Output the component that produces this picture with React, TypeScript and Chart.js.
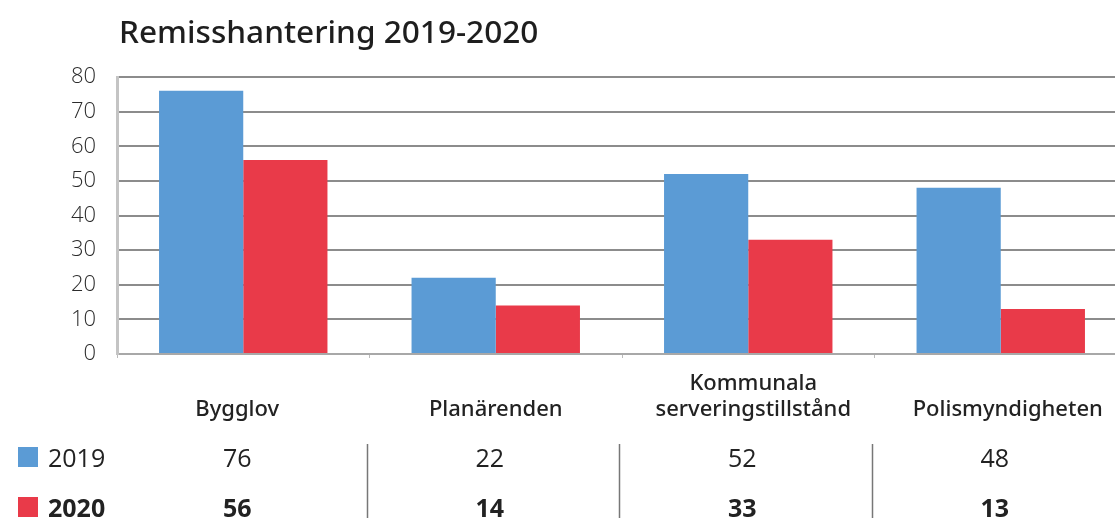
import React, { useEffect, useRef } from "react";
import { Chart, registerables } from "chart.js";

Chart.register(...registerables);

const title = "Remisshantering 2019-2020";
const categories: (string | string[])[] = [
  "Bygglov",
  "Planärenden",
  ["Kommunala", "serveringstillstånd"],
  "Polismyndigheten",
];
const seriesNames = ["2019", "2020"];
const values2019 = [76, 22, 52, 48];
const values2020 = [56, 14, 33, 13];
const yTicks = [0, 10, 20, 30, 40, 50, 60, 70, 80];

const BLUE = "#5b9bd5";
const RED = "#e93a49";
const FONT = "'Noto Sans', 'Open Sans', sans-serif";
const TICKFONT = "'Open Sans', 'Noto Sans', sans-serif";

const tablePlugin = {
  id: "tablePlugin",
  afterDraw(chart: any) {
    const ctx = chart.ctx;
    const x = chart.scales.x;
    const area = chart.chartArea;
    ctx.save();
    // Title
    ctx.fillStyle = "#1e1e1e";
    ctx.font = `500 31.6px ${FONT}`;
    ctx.textAlign = "left";
    ctx.textBaseline = "alphabetic";
    ctx.fillText(title, area.left + 2, 43);

    const n = categories.length;
    const half = (x.getPixelForValue(1) - x.getPixelForValue(0)) / 2;

    // Category labels (bottom-aligned)
    ctx.font = `500 22px ${FONT}`;
    ctx.fillStyle = "#222";
    ctx.textAlign = "center";
    const labelShift = [-6, 0, 5, 7];
    categories.forEach((c, i) => {
      const lines = Array.isArray(c) ? c : [c];
      const cx = x.getPixelForValue(i) + labelShift[i];
      lines.forEach((ln, j) => {
        const y = 416 - (lines.length - 1 - j) * 26;
        ctx.fillText(ln, cx, y);
      });
    });

    // Rows
    const rows = [values2019, values2020];
    const colors = [BLUE, RED];
    const baselines = [467, 517];
    rows.forEach((row, r) => {
      const weight = r === 1 ? "bold " : "";
      ctx.fillStyle = colors[r];
      ctx.fillRect(18, baselines[r] - 20, 20, 20);
      ctx.fillStyle = "#222";
      ctx.font = `${weight}25px ${TICKFONT}`;
      ctx.textAlign = "left";
      ctx.fillText(seriesNames[r], 48, baselines[r]);
      ctx.textAlign = "center";
      row.forEach((v, i) => {
        ctx.fillText(String(v), x.getPixelForValue(i) - 6, baselines[r]);
      });
    });

    // Separators
    ctx.strokeStyle = "#777";
    ctx.lineWidth = 1.5;
    for (let i = 0; i < n - 1; i++) {
      const sx = Math.round(x.getPixelForValue(i) + half) - 2.5;
      ctx.beginPath();
      ctx.moveTo(sx, 444);
      ctx.lineTo(sx, 518);
      ctx.stroke();
    }
    ctx.restore();
  },
};

export default function App() {
  const ref = useRef<HTMLCanvasElement | null>(null);
  useEffect(() => {
    if (!ref.current) return;
    const chart = new Chart(ref.current, {
      type: "bar",
      data: {
        labels: categories.map((c) => (Array.isArray(c) ? c.join(" ") : c)),
        datasets: [
          {
            label: seriesNames[0],
            data: values2019,
            backgroundColor: BLUE,
            borderWidth: 0,
            categoryPercentage: 0.667,
            barPercentage: 1,
          },
          {
            label: seriesNames[1],
            data: values2020,
            backgroundColor: RED,
            borderWidth: 0,
            categoryPercentage: 0.667,
            barPercentage: 1,
          },
        ],
      },
      options: {
        responsive: false,
        animation: false,
        devicePixelRatio: 1,
        layout: { padding: { top: 77, bottom: 164, left: 0, right: 0 } },
        plugins: {
          legend: { display: false },
          title: { display: false },
          tooltip: { enabled: false },
        },
        scales: {
          x: {
            type: "category",
            offset: true,
            ticks: { display: false },
            grid: {
              display: true,
              offset: true,
              drawOnChartArea: false,
              drawTicks: true,
              tickLength: 4,
              color: "#bbbbbb",
              lineWidth: 1,
            },
            border: { display: false },
            afterFit: (s: any) => {
              s.height = 0;
            },
          },
          y: {
            min: 0,
            max: 80,
            afterBuildTicks: (s: any) => {
              s.ticks = yTicks.map((v) => ({ value: v }));
            },
            ticks: {
              padding: 21,
              color: "#2c2c2c",
              font: { family: TICKFONT, size: 22, weight: "300" as any },
            },
            grid: {
              drawTicks: false,
              color: (c: any) => (c.tick && c.tick.value === 0 ? "#a8a8a8" : "#8c8c8c"),
              lineWidth: 2,
            },
            border: { display: true, color: "#c4c4c4", width: 3 },
            afterFit: (s: any) => {
              s.width = 117;
            },
          },
        },
      },
      plugins: [tablePlugin],
    });
    return () => chart.destroy();
  }, []);
  return (
    <div
      style={{
        position: "absolute",
        left: 0,
        top: 0,
        width: 1115,
        height: 518,
        overflow: "hidden",
        background: "#fff",
      }}
    >
      <canvas ref={ref} width={1127} height={518} style={{ width: 1127, height: 518 }} />
    </div>
  );
}
